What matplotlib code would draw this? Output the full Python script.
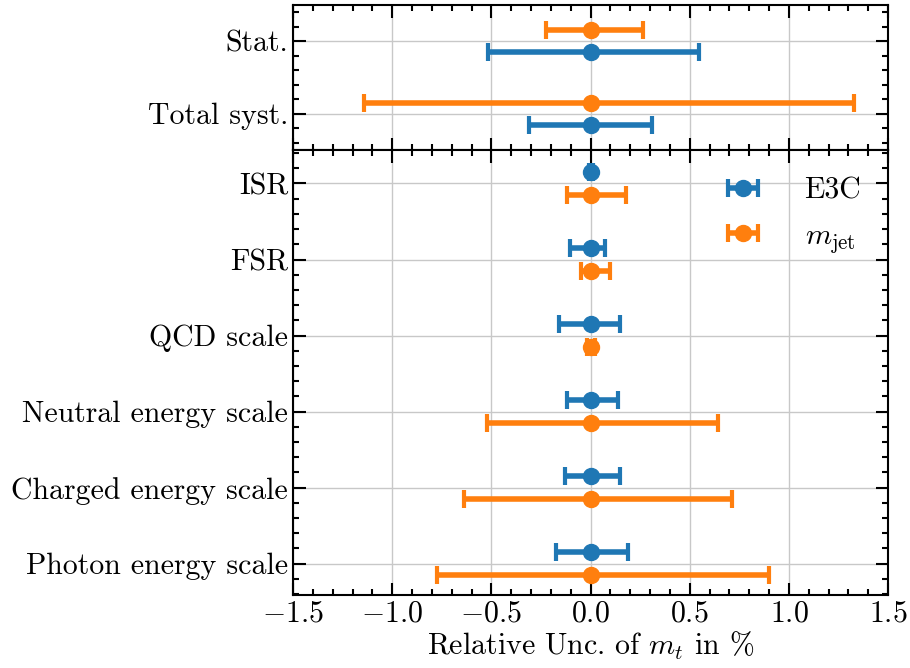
import matplotlib
matplotlib.use('Agg')
import matplotlib.pyplot as plt
from matplotlib.ticker import MultipleLocator, AutoMinorLocator

# Top panel: statistical and total systematic
top_labels = ['Total syst.', 'Stat.']
top_e3c_lo = [0.31, 0.517]
top_e3c_hi = [0.31, 0.545]
top_mjet_lo = [1.142, 0.225]
top_mjet_hi = [1.328, 0.262]

# Bottom panel: individual sources
bot_labels = ['ISR', 'FSR', 'QCD scale', 'Neutral energy scale',
              'Charged energy scale', 'Photon energy scale']
bot_e3c_lo = [0.01, 0.102, 0.157, 0.121, 0.131, 0.176]
bot_e3c_hi = [0.01, 0.074, 0.149, 0.137, 0.147, 0.19]
bot_mjet_lo = [0.121, 0.047, 0.02, 0.523, 0.639, 0.772]
bot_mjet_hi = [0.176, 0.1, 0.02, 0.644, 0.715, 0.901]

plt.rcParams['font.family'] = 'serif'
plt.rcParams['font.serif'] = ['cmr10']
plt.rcParams['mathtext.fontset'] = 'cm'
plt.rcParams['axes.formatter.use_mathtext'] = True
plt.rcParams['font.size'] = 21.5

blue = '#1f77b4'
orange = '#ff7f0e'
eb = dict(fmt='o', markersize=11.5, elinewidth=4, capsize=6.5, capthick=3)

fig, (ax1, ax2) = plt.subplots(2, 1, figsize=(9.1, 6.68), dpi=100, sharex=True,
                               gridspec_kw={'height_ratios': [1, 3.07], 'hspace': 0})
fig.subplots_adjust(left=0.322, right=0.976, top=0.9925, bottom=0.109)

off = 0.15
ty = list(range(len(top_labels)))
ax1.errorbar([0] * len(ty), [y - off for y in ty], xerr=[top_e3c_lo, top_e3c_hi],
             color=blue, **eb)
ax1.errorbar([0] * len(ty), [y + off for y in ty], xerr=[top_mjet_lo, top_mjet_hi],
             color=orange, **eb)
ax1.set_yticks(ty)
ax1.set_yticklabels(top_labels)
ax1.set_ylim(-0.5, 1.5)

by = list(range(len(bot_labels)))
ax2.errorbar([0] * len(by), [y - off for y in by], xerr=[bot_e3c_lo, bot_e3c_hi],
             color=blue, label='E3C', **eb)
ax2.errorbar([0] * len(by), [y + off for y in by], xerr=[bot_mjet_lo, bot_mjet_hi],
             color=orange, label=r'$m_\mathrm{jet}$', **eb)
ax2.set_yticks(by)
ax2.set_yticklabels(bot_labels)
ax2.set_ylim(5.415, -0.44)
ax2.legend(loc='upper right', frameon=False, fontsize=21.5, handlelength=1.7,
           handletextpad=1.2, borderaxespad=0.5, labelspacing=0.6)

ax2.set_xlim(-1.5, 1.5)
ax2.xaxis.set_major_locator(MultipleLocator(0.5))
ax2.xaxis.set_minor_locator(MultipleLocator(0.1))
ax2.set_xlabel(r'Relative Unc. of $m_t$ in %', labelpad=2)

for ax in (ax1, ax2):
    ax.yaxis.set_minor_locator(AutoMinorLocator(5))
    ax.grid(True, which='major', color='#c8c8c8', linewidth=1)
    ax.set_axisbelow(True)
    ax.tick_params(which='both', direction='in', top=True, right=True, width=1.5)
    ax.tick_params(which='major', length=9)
    ax.tick_params(which='minor', length=4.5)
    for s in ax.spines.values():
        s.set_linewidth(1.5)

fig.savefig('out.png', dpi=100)
